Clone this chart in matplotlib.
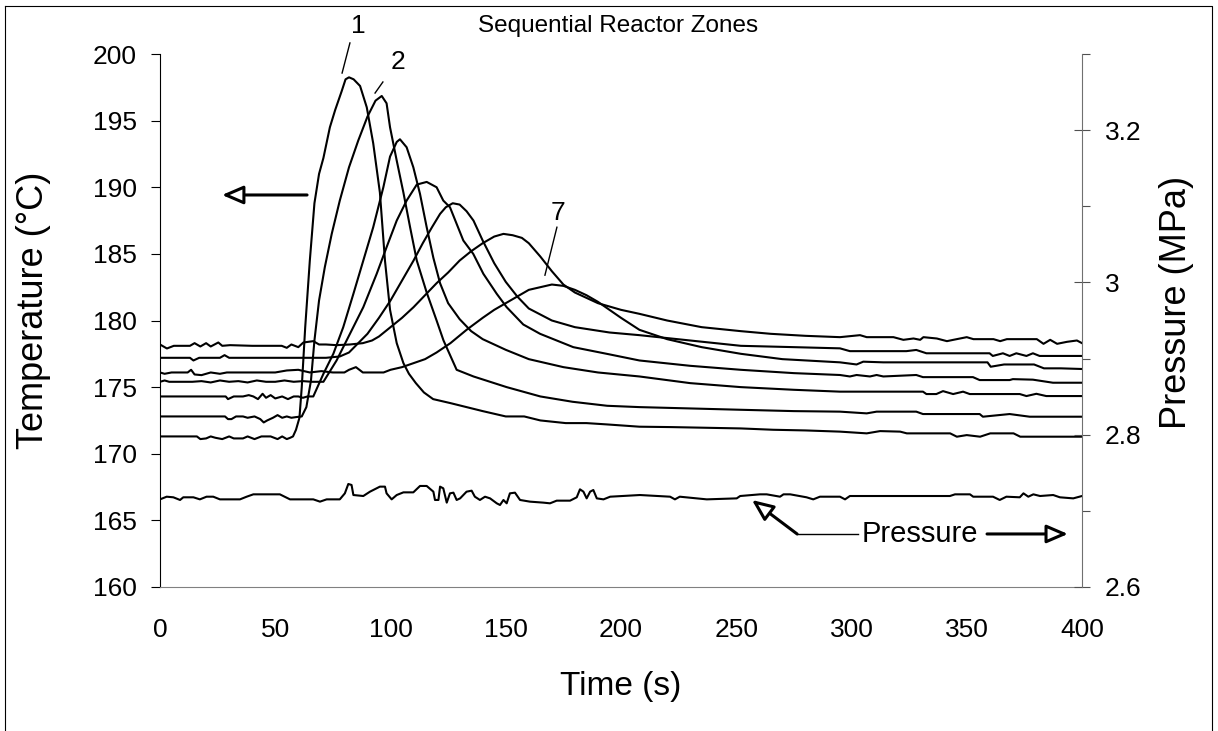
import matplotlib
matplotlib.use("Agg")

import numpy as np
import matplotlib.pyplot as plt
from matplotlib.lines import Line2D

plt.rcParams["font.family"] = ["Liberation Sans", "DejaVu Sans"]

# zone temperatures, (time s, temp C)
zone1 = [(0, 171.3), (8, 171.3), (16, 171.3), (17.5, 171.1), (20, 171.15), (22, 171.3), (24, 171.2),
         (27, 171.1), (30, 171.3), (32, 171.15), (36, 171.15), (38, 171.3), (41, 171.1), (44, 171.3),
         (48, 171.3), (51, 171.1), (53, 171.3), (55, 171.1), (56.5, 171.2), (57.7, 171.3), (59, 171.8),
         (60.5, 172.7), (61.5, 175.0), (63, 179.5), (65, 184.5), (67, 188.8), (69, 191.0), (70.9, 192.2),
         (73.7, 194.5), (76, 195.8), (78.8, 197.2), (80.5, 198.1), (82, 198.25), (84, 198.1), (86.8, 197.6),
         (89.7, 196.0), (92.5, 193.3), (95.4, 189.6), (97.6, 184.5), (99.8, 180.8), (102.7, 178.3),
         (105.6, 176.8), (108, 176.0), (111, 175.3), (114.5, 174.6), (118.5, 174.1), (121, 174.0),
         (126, 173.8), (133, 173.5), (140, 173.2), (150, 172.8), (158, 172.8), (165, 172.5), (176, 172.3),
         (185, 172.3), (194, 172.2), (208, 172.03), (222, 172.0), (237, 171.95), (252, 171.9), (266, 171.8),
         (280, 171.75), (295, 171.66), (306.6, 171.53), (312.4, 171.7), (321.1, 171.66), (324, 171.53),
         (342.8, 171.53), (345.7, 171.28), (350, 171.4), (355.8, 171.28), (360.2, 171.53), (370.3, 171.53),
         (373.2, 171.28), (400, 171.28)]

zone2 = [(0, 172.8), (10, 172.8), (20, 172.8), (28.2, 172.8), (29.5, 172.6), (31, 172.6), (33, 172.8),
         (36, 172.8), (38, 172.7), (41, 172.8), (43.5, 172.6), (45, 172.35), (46.5, 172.5), (49, 172.7),
         (51, 172.9), (53, 172.7), (55, 172.8), (57, 172.7), (59, 172.75), (61.5, 172.8), (63.5, 173.5),
         (65.5, 175.5), (67, 178.5), (69, 181.5), (71.5, 184.0), (74.5, 186.5), (78, 189.0), (82, 191.5),
         (86, 193.5), (90, 195.3), (93.5, 196.5), (96.2, 196.85), (98.3, 196.3), (99.8, 194.5),
         (102.7, 192.0), (105.6, 189.6), (108.5, 187.0), (111.4, 184.5), (115.7, 182.1), (120, 180.0),
         (123, 178.5), (128.7, 176.3), (136, 175.8), (150.4, 175.0), (165, 174.3), (179, 173.9),
         (194, 173.6), (208, 173.5), (230, 173.4), (252, 173.3), (275, 173.2), (295, 173.16),
         (306.6, 173.03), (310.9, 173.16), (328.1, 173.16), (331, 172.98), (355.6, 172.98), (357, 172.78),
         (368.6, 172.98), (377.3, 172.78), (400, 172.78)]

zone3 = [(0, 174.3), (10, 174.3), (20, 174.3), (28.5, 174.3), (29.5, 174.1), (32, 174.3), (36, 174.3),
         (38.5, 174.4), (40.5, 174.3), (42.5, 174.1), (44.5, 174.5), (46, 174.2), (48, 174.4), (50, 174.15),
         (53, 174.3), (55.5, 174.1), (58, 174.3), (60, 174.3), (62, 174.2), (64, 174.3), (66.5, 174.3),
         (70.9, 176.0), (75.2, 177.5), (79.5, 179.5), (83.9, 182.0), (88.2, 184.5), (92.5, 187.0),
         (96.9, 190.0), (99.8, 192.3), (102.7, 193.4), (104.1, 193.6), (107, 193.0), (109.9, 191.5),
         (112.8, 189.5), (115.7, 187.0), (118.6, 184.7), (121.5, 182.8), (125, 181.3), (130, 180.1),
         (135, 179.2), (140, 178.6), (150, 177.8), (160, 177.1), (175, 176.5), (190, 176.1), (208, 175.8),
         (230, 175.3), (252, 175.0), (275, 174.8), (295, 174.66), (331, 174.66), (332.5, 174.48),
         (336.8, 174.48), (339.7, 174.7), (344.1, 174.48), (348.4, 174.66), (351.3, 174.48), (373, 174.48),
         (375.9, 174.33), (380.2, 174.5), (384.5, 174.33), (400, 174.33)]

zone4 = [(0, 175.4), (2, 175.5), (4, 175.4), (8, 175.4), (14, 175.4), (18, 175.45), (22, 175.35),
         (26, 175.5), (30, 175.4), (34, 175.45), (38, 175.35), (42, 175.5), (46, 175.4), (50, 175.4),
         (54, 175.5), (58, 175.4), (62, 175.45), (66, 175.4), (70.9, 175.4), (76.6, 177.0), (82.4, 179.0),
         (88.2, 181.0), (94, 183.5), (98.3, 185.5), (102.7, 187.5), (107, 189.0), (111.4, 190.2),
         (115.7, 190.4), (120, 190.0), (122.9, 189.0), (125.8, 188.5), (131.6, 186.0), (135.9, 185.0),
         (140.3, 183.5), (146.1, 182.0), (150.4, 181.0), (157.6, 179.7), (164.9, 179.0), (172.1, 178.5),
         (179.3, 178.0), (193.8, 177.5), (208, 177.0), (230, 176.6), (252, 176.3), (275, 176.05),
         (295, 175.91), (299.3, 175.8), (302.2, 175.91), (308, 175.8), (310.9, 175.91), (313.8, 175.8),
         (328.1, 175.91), (331, 175.75), (352.7, 175.75), (355.6, 175.53), (368.6, 175.53), (370, 175.6),
         (378.7, 175.56), (387.4, 175.33), (400, 175.33)]

zone5 = [(0, 177.2), (5, 177.2), (10, 177.2), (13, 177.2), (14.5, 177.0), (17, 177.2), (22, 177.2),
         (26, 177.2), (28, 177.4), (30, 177.2), (35, 177.2), (45, 177.2), (55, 177.2), (65, 177.2),
         (72, 177.2), (78, 177.3), (82, 177.6), (86, 178.3), (90, 179.0), (95, 180.2), (100, 181.5),
         (105, 183.0), (110, 184.5), (114, 185.8), (118, 187.0), (121.5, 188.0), (124, 188.5), (127, 188.8),
         (130, 188.7), (133, 188.2), (136, 187.5), (140, 186.0), (145, 184.3), (150, 182.9), (155, 181.8),
         (160, 180.9), (170, 180.0), (180, 179.5), (195, 179.1), (208, 178.9), (230, 178.5), (252, 178.1),
         (275, 178.0), (295, 177.91), (299.3, 177.7), (323.8, 177.7), (328.1, 177.79), (332.5, 177.54),
         (359.9, 177.54), (361.3, 177.34), (365.7, 177.54), (368.6, 177.34), (371.5, 177.54),
         (375.9, 177.34), (378.7, 177.54), (381.6, 177.34), (400, 177.34)]

zone6 = [(0, 178.2), (3, 177.9), (6, 178.1), (13, 178.1), (15, 178.3), (17.5, 178.05), (20, 178.3),
         (22, 178.05), (25.3, 178.35), (27, 178.1), (30.4, 178.15), (40, 178.1), (50, 178.1), (52.8, 178.1),
         (55, 177.95), (57, 178.2), (60, 178.0), (62.2, 178.35), (66.5, 178.45), (69, 178.2), (72, 178.2),
         (76.6, 178.15), (82.4, 178.2), (88, 178.3), (92, 178.5), (95, 178.8), (100, 179.5), (105, 180.2),
         (110, 181.0), (115, 181.9), (120, 182.8), (125, 183.6), (130, 184.5), (135, 185.2), (140, 185.8),
         (145, 186.3), (149, 186.5), (153, 186.4), (157, 186.2), (160, 185.8), (165, 184.8), (170, 183.7),
         (175, 182.7), (180, 182.1), (190, 181.3), (200, 180.8), (208, 180.5), (220, 180.0), (235, 179.5),
         (252, 179.2), (265, 179.0), (280, 178.85), (295, 178.75), (303.7, 178.9), (306.6, 178.75),
         (318.2, 178.75), (322.5, 178.55), (326.9, 178.65), (329.8, 178.55), (331.2, 178.75), (337, 178.65),
         (341.4, 178.45), (344.2, 178.55), (350, 178.75), (352.9, 178.6), (361.6, 178.6), (364.5, 178.45),
         (367.4, 178.6), (380.4, 178.6), (383.3, 178.25), (386.2, 178.55), (389.2, 178.25), (393.5, 178.4),
         (397.8, 178.5), (400, 178.3)]

zone7 = [(0, 176.1), (2, 176.0), (5, 176.1), (12, 176.1), (13.5, 176.3), (15, 175.95), (18, 175.9),
         (22, 176.1), (26, 176.0), (29, 176.1), (31, 176.1), (35, 176.1), (50, 176.1), (55, 176.25),
         (60, 176.3), (65, 176.1), (70, 176.2), (75, 176.1), (80, 176.1), (82, 176.3), (85, 176.5),
         (88, 176.1), (92, 176.1), (97, 176.1), (100, 176.3), (105, 176.5), (110, 176.8), (115, 177.1),
         (120, 177.6), (126, 178.3), (133, 179.3), (140, 180.2), (145, 180.8), (150, 181.3), (155, 181.8),
         (160, 182.3), (165, 182.5), (170, 182.7), (175, 182.6), (180, 182.3), (185, 181.9), (190, 181.4),
         (200, 180.2), (208, 179.3), (220, 178.6), (235, 178.0), (252, 177.5), (270, 177.1), (295, 176.86),
         (302.2, 176.7), (305.1, 176.91), (313.8, 176.86), (359, 176.86), (360.4, 176.53), (366.2, 176.7),
         (379.2, 176.7), (383.5, 176.41), (390.8, 176.41), (400, 176.36)]

# pressure, (time s, MPa)
pressure = [(0, 2.7151), (2.9, 2.7186), (5.8, 2.7178), (8.7, 2.7143), (10.1, 2.7178), (14.5, 2.7178),
            (17.3, 2.7151), (20.2, 2.7186), (23.1, 2.7186), (26.0, 2.7151), (34.7, 2.7151), (37.6, 2.7186),
            (40.5, 2.7217), (52.0, 2.7217), (56.4, 2.7151), (66.5, 2.7151), (69.4, 2.7121), (72.3, 2.7151),
            (78.0, 2.7151), (80.2, 2.7230), (81.7, 2.7353), (83.1, 2.7340), (83.9, 2.7208), (88.2, 2.7195),
            (91.1, 2.7252), (95.4, 2.7318), (97.6, 2.7318), (98.3, 2.7230), (100.5, 2.7151), (102.7, 2.7208),
            (105.6, 2.7243), (109.9, 2.7243), (112.8, 2.7327), (115.7, 2.7327), (118.6, 2.7252),
            (119.3, 2.7143), (120.8, 2.7143), (121.5, 2.7318), (122.9, 2.7296), (124.4, 2.7108),
            (125.8, 2.7230), (127.3, 2.7239), (128.7, 2.7143), (130.2, 2.7164), (133.0, 2.7252),
            (135.2, 2.7265), (136.6, 2.7186), (138.8, 2.7143), (141.0, 2.7186), (143.2, 2.7164),
            (146.1, 2.7099), (147.5, 2.7077), (149.0, 2.7143), (150.4, 2.7099), (151.8, 2.7230),
            (154.0, 2.7239), (156.2, 2.7143), (160.5, 2.7121), (166.3, 2.7108), (169.2, 2.7099),
            (172.1, 2.7134), (177.9, 2.7134), (180.8, 2.7178), (182.2, 2.7283), (183.7, 2.7252),
            (185.1, 2.7164), (186.6, 2.7252), (188.0, 2.7274), (189.5, 2.7164), (192.4, 2.7151),
            (195.3, 2.7186), (208.2, 2.7208), (221.3, 2.7186), (223.4, 2.7151), (225.5, 2.7186),
            (237.2, 2.7151), (250.2, 2.7164), (251.7, 2.7195), (260.3, 2.7217), (263.2, 2.7217),
            (269.0, 2.7186), (270.5, 2.7217), (273.4, 2.7217), (280.5, 2.7178), (283.4, 2.7151),
            (286.3, 2.7186), (295.0, 2.7186), (297.2, 2.7151), (299.3, 2.7195), (342.7, 2.7195),
            (344.9, 2.7217), (351.4, 2.7217), (352.8, 2.7186), (361.4, 2.7186), (364.3, 2.7143),
            (367.2, 2.7186), (373.0, 2.7178), (374.6, 2.7230), (376.7, 2.7186), (378.9, 2.7217),
            (381.8, 2.7195), (387.5, 2.7208), (390.4, 2.7178), (396.2, 2.7164), (400, 2.7195)]

zones = [zone1, zone2, zone3, zone4, zone5, zone6, zone7]

W, H = 1218, 731
fig = plt.figure(figsize=(W / 100, H / 100), dpi=100)
ax = fig.add_axes([160 / W, 1 - 587 / H, 922 / W, 533 / H])
ax2 = ax.twinx()

for z in zones:
    t, T = np.array(z).T
    ax.plot(t, T, color="black", lw=1.5, solid_joinstyle="round")

pt, pp = np.array(pressure).T
ax2.plot(pt, pp, color="black", lw=1.5)

ax.set_xlim(0, 400)
ax.set_ylim(160, 200)
ax.set_xticks(range(0, 401, 50))
ax.set_yticks(range(160, 201, 5))
ax2.set_ylim(2.6, 3.3)
ax2.set_yticks([2.6, 2.8, 3.0, 3.2])
ax2.set_yticklabels(["2.6", "2.8", "3", "3.2"])
ax2.set_yticks([2.7, 2.9, 3.1, 3.3], minor=True)

for a in (ax, ax2):
    a.spines["top"].set_visible(False)
    a.patch.set_visible(False)
ax.spines["right"].set_visible(False)
ax2.spines["left"].set_visible(False)
ax2.spines["bottom"].set_visible(False)
ax.spines["left"].set_color("black")
ax.spines["bottom"].set_color("#808080")
ax2.spines["right"].set_color("#707070")

ax.tick_params(axis="y", direction="out", length=6.7, width=0.8, labelsize=19, pad=10)
ax.tick_params(axis="x", length=0, labelsize=19, pad=22)
ax2.tick_params(axis="y", which="major", direction="inout", length=12, width=0.8,
                color="#505050", labelsize=19, pad=10.5)
ax2.tick_params(axis="y", which="minor", direction="out", length=5.8, width=0.8, color="#505050")

ax.set_xlabel("Time (s)", fontsize=24)
ax.xaxis.set_label_coords(0.5, -0.158)
fig.text(34 / W, 1 - 310 / H, "Temperature (°C)", rotation=90, fontsize=26, ha="center", va="center")
fig.text(1176 / W, 1 - 302 / H, "Pressure (MPa)", rotation=90, fontsize=26, ha="center", va="center")

fig.text(618 / W, 1 - 26 / H, "Sequential Reactor Zones", fontsize=17.5, ha="center", va="center")

# zone labels with leader lines
ax.text(85.9, 202.1, "1", fontsize=19, ha="center", va="center", clip_on=False)
ax.plot([79.0, 82.4], [198.57, 200.83], color="black", lw=1, clip_on=False)
ax.text(103.3, 199.4, "2", fontsize=19, ha="center", va="center", clip_on=False)
ax.plot([93.3, 96.7], [197.07, 197.9], color="black", lw=1, clip_on=False)
ax.text(172.7, 188.1, "7", fontsize=19, ha="center", va="center")
ax.plot([167.0, 172.2], [183.4, 187.0], color="black", lw=1)

# axis pointer arrows (open heads)
head = "-|>,head_length=0.65,head_width=0.28"
ax.annotate("", xy=(26.9, 189.42), xytext=(63.8, 189.42),
            arrowprops=dict(arrowstyle=head, mutation_scale=20, lw=2.2, fc="white", ec="black",
                            shrinkA=0, shrinkB=0))
ax.annotate("", xy=(256.8, 166.53), xytext=(276.4, 163.98),
            arrowprops=dict(arrowstyle=head, mutation_scale=20, lw=2.2, fc="white", ec="black",
                            shrinkA=0, shrinkB=0))
ax.plot([276.4, 303.0], [163.98, 163.98], color="black", lw=1)
ax.text(329.7, 163.98, "Pressure", fontsize=21, ha="center", va="center")
ax.annotate("", xy=(393.9, 163.98), xytext=(358.8, 163.98),
            arrowprops=dict(arrowstyle=head, mutation_scale=20, lw=2.2, fc="white", ec="black",
                            shrinkA=0, shrinkB=0))

# chart-area border
def px_line(xs, ys):
    fig.add_artist(Line2D([x / W for x in xs], [1 - y / H for y in ys],
                          color="black", lw=0.8, transform=fig.transFigure))

px_line([5, 1212, 1212], [6, 6, 740])
px_line([5, 5], [6, 740])

fig.savefig("out.png", dpi=100)
